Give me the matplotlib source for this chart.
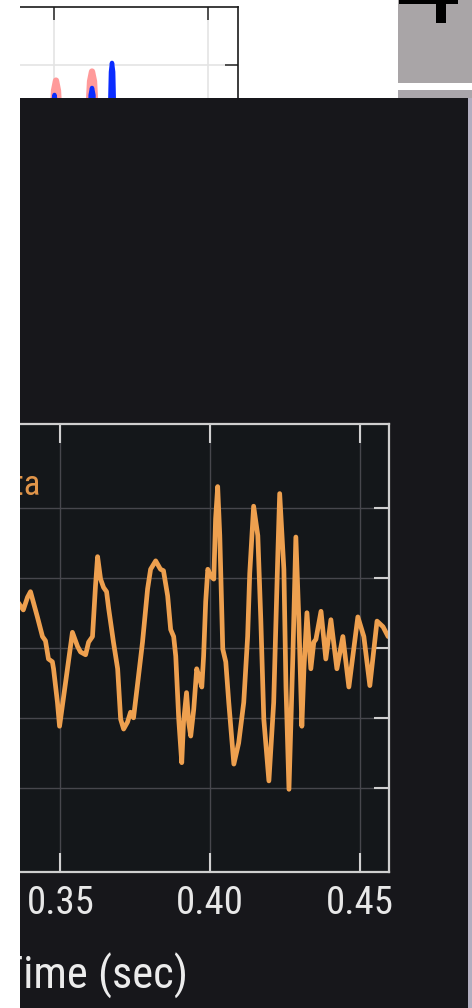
import matplotlib
matplotlib.use("Agg")
import matplotlib.pyplot as plt
from matplotlib import font_manager as fm
from matplotlib.patches import Rectangle

# ---- strain record (seconds, strain in 1e-21) ----
time_s = [
    0.3360, 0.3366, 0.3376, 0.3390, 0.3400, 0.3423, 0.3440, 0.3450, 0.3460, 0.3473,
    0.3477, 0.3490, 0.3497, 0.3517, 0.3540, 0.3557, 0.3567, 0.3584, 0.3594, 0.3607,
    0.3617, 0.3624, 0.3634, 0.3644, 0.3654, 0.3661, 0.3677, 0.3691, 0.3701, 0.3711,
    0.3724, 0.3734, 0.3744, 0.3758, 0.3774, 0.3791, 0.3801, 0.3818, 0.3834, 0.3844,
    0.3858, 0.3868, 0.3878, 0.3885, 0.3895, 0.3905, 0.3911, 0.3921, 0.3928, 0.3935,
    0.3945, 0.3955, 0.3962, 0.3972, 0.3978, 0.3985, 0.3992, 0.4002, 0.4012, 0.4018,
    0.4025, 0.4032, 0.4042, 0.4052, 0.4062, 0.4079, 0.4095, 0.4112, 0.4125, 0.4132,
    0.4145, 0.4159, 0.4169, 0.4179, 0.4196, 0.4212, 0.4226, 0.4232, 0.4246, 0.4253,
    0.4263, 0.4276, 0.4286, 0.4296, 0.4306, 0.4313, 0.4323, 0.4336, 0.4346, 0.4353,
    0.4370, 0.4386, 0.4403, 0.4423, 0.4443, 0.4463, 0.4493, 0.4513, 0.4533, 0.4557,
    0.4577, 0.4594, 0.4610,
]
strain = [
    0.32, 0.30, 0.27, 0.36, 0.40, 0.22, 0.08, 0.05, -0.08, -0.10,
    -0.15, -0.39, -0.56, -0.25, 0.11, 0.01, -0.03, -0.05, 0.04, 0.08,
    0.44, 0.65, 0.49, 0.43, 0.40, 0.28, 0.04, -0.15, -0.51, -0.58,
    -0.53, -0.46, -0.50, -0.25, 0.04, 0.42, 0.56, 0.62, 0.56, 0.55,
    0.37, 0.13, 0.08, -0.06, -0.51, -0.82, -0.53, -0.32, -0.53, -0.63,
    -0.44, -0.15, -0.20, -0.28, -0.06, 0.33, 0.56, 0.51, 0.49, 0.92,
    1.15, 0.80, -0.01, -0.10, -0.39, -0.83, -0.68, -0.39, 0.08, 0.53,
    1.01, 0.80, 0.20, -0.51, -0.95, -0.39, 0.68, 1.10, 0.56, -0.28,
    -1.01, -0.06, 0.79, 0.20, -0.56, -0.15, 0.25, -0.15, 0.04, 0.06,
    0.26, -0.08, 0.20, -0.15, 0.08, -0.28, 0.22, 0.08, -0.27, 0.19,
    0.15, 0.08, 0.13,
]
x_ticks = [0.35, 0.40, 0.45]
y_ticks = [-1.0, -0.5, 0.0, 0.5, 1.0]

# ---- upper panel: two overlaid peak traces ----
pink_time = [0.2750, 0.3470, 0.3492, 0.3500, 0.35065, 0.3513, 0.3521, 0.3545,
             0.3595, 0.3609, 0.3617, 0.36234, 0.3630, 0.3638, 0.3660,
             0.3676, 0.3683, 0.36883, 0.3694, 0.3701, 0.3730, 0.4097]
pink_vals = [0.05, 0.10, 0.70, 0.89, 0.933, 0.89, 0.70, 0.15,
             0.15, 0.73, 0.93, 0.972, 0.93, 0.73, 0.15,
             0.50, 0.80, 0.86, 0.80, 0.50, 0.10, 0.05]
blue_time = [0.2750, 0.3475, 0.3494, 0.3498, 0.35016, 0.3505, 0.3509, 0.3540,
             0.3600, 0.3615, 0.3619, 0.36234, 0.3628, 0.3632, 0.3660,
             0.3674, 0.3682, 0.3685, 0.36883, 0.3692, 0.3695, 0.3703, 0.3730, 0.4097]
blue_vals = [0.05, 0.10, 0.60, 0.84, 0.871, 0.84, 0.60, 0.10,
             0.10, 0.60, 0.87, 0.901, 0.87, 0.60, 0.10,
             0.30, 0.80, 0.97, 1.009, 0.97, 0.80, 0.30, 0.10, 0.05]
top_x_ticks = [0.35, 0.40]
top_y_ticks = [0.0, 0.5, 1.0]


def narrow_font():
    """Pick an installed narrow sans face, else plain Liberation Sans."""
    entries = fm.fontManager.ttflist
    for want in ('Liberation Sans Narrow', 'Roboto Condensed', 'Open Sans Condensed'):
        for f in entries:
            if f.name == want and f.weight in (400, 'normal', 'regular') and f.style == 'normal':
                return fm.FontProperties(fname=f.fname), True
    for f in entries:
        low = f.fname.lower()
        if 'condensed' in low and 'bold' not in low and 'oblique' not in low \
                and 'italic' not in low and 'sans' in low and 'mono' not in low:
            return fm.FontProperties(fname=f.fname), True
    return fm.FontProperties(family='Liberation Sans'), False


FP, IS_NARROW = narrow_font()
tick_size = 28 if IS_NARROW else 22
label_size = 32 if IS_NARROW else 26
legend_size = 25 if IS_NARROW else 20

W, H = 472, 1008
fig = plt.figure(figsize=(W / 100, H / 100), dpi=100, facecolor='white')


def px_axes(x0, y0, x1, y1, **kw):
    """Add axes from pixel box (top-left origin)."""
    return fig.add_axes([x0 / W, 1 - y1 / H, (x1 - x0) / W, (y1 - y0) / H], **kw)


# upper white chart
axt = px_axes(-180, 7, 238, 297, zorder=0, facecolor='white')
axt.plot(pink_time, pink_vals, color='#ff9a9a', lw=4.5, solid_joinstyle='round')
axt.plot(blue_time, blue_vals, color='#0a2cff', lw=3.2, solid_joinstyle='round')
axt.set_xlim(0.27403, 0.40974)
axt.set_ylim(0, 1.25)
axt.set_xticks(top_x_ticks)
axt.set_yticks(top_y_ticks)
axt.grid(True, color='#e4e4e4', lw=1.2)
axt.set_axisbelow(True)
axt.tick_params(which='both', direction='in', top=True, right=True, length=9.5,
                width=1.2, color='#333333', labelbottom=False, labelleft=False)
for s in axt.spines.values():
    s.set_color('#1a1a1a')
    s.set_linewidth(1.2)

# screen panels in pixel coordinates
ov = fig.add_axes([0, 0, 1, 1], zorder=1)
ov.set_xlim(0, W)
ov.set_ylim(H, 0)
ov.axis('off')
ov.patch.set_visible(False)
ov.add_patch(Rectangle((398, 0), 74, 83, color='#a9a5a7', lw=0))
ov.add_patch(Rectangle((399, 0), 59, 4, color='black', lw=0))
ov.add_patch(Rectangle((436, 0), 10, 23, color='black', lw=0))
ov.add_patch(Rectangle((398, 90), 74, H - 90, color='#aaa6ab', lw=0))
ov.add_patch(Rectangle((468, 98), 4, H - 98, color='#b2aec0', lw=0))
ov.add_patch(Rectangle((20, 98), 448, H - 98, color='#17171b', lw=0))

# dark strain chart
AX_LEFT = -200
ax = px_axes(AX_LEFT, 423.5, 389, 872, zorder=2, facecolor='#14171a')
ax.plot(time_s, strain, color='#eea04f', lw=3.4, solid_joinstyle='round',
        solid_capstyle='round')
ax.set_xlim(0.35 - (60 - AX_LEFT) / 2990, 0.45 + 29 / 2990)
ax.set_ylim(-1.6, 1.6)
ax.set_xticks(x_ticks)
ax.set_xticklabels([f'{v:.2f}' for v in x_ticks], fontproperties=FP, size=tick_size)
ax.set_yticks(y_ticks)
ax.grid(True, color='#47474d', lw=1.0)
ax.set_axisbelow(True)
ax.tick_params(axis='x', direction='in', top=True, bottom=True, length=14,
               width=1.5, color='#d0d0d0', labelcolor='#e8e8e8', pad=9.5)
ax.tick_params(axis='y', direction='in', left=True, right=True, length=11,
               width=1.5, color='#d0d0d0', labelleft=False)
for s in ax.spines.values():
    s.set_color('#cfcfcf')
    s.set_linewidth(1.6)
ax.set_xlabel('Time (sec)', fontproperties=FP, size=label_size, color='#ececec',
              labelpad=22)
ax.text(41, H - 495, 'Data', transform=None, color='#e0954a', fontproperties=FP,
        size=legend_size, ha='right', va='baseline')

# left margin
mask = fig.add_axes([0, 0, 1, 1], zorder=3)
mask.set_xlim(0, W)
mask.set_ylim(H, 0)
mask.axis('off')
mask.patch.set_visible(False)
mask.add_patch(Rectangle((0, 0), 20, H, color='white', lw=0))

fig.savefig('out.png', dpi=100, facecolor='white')
